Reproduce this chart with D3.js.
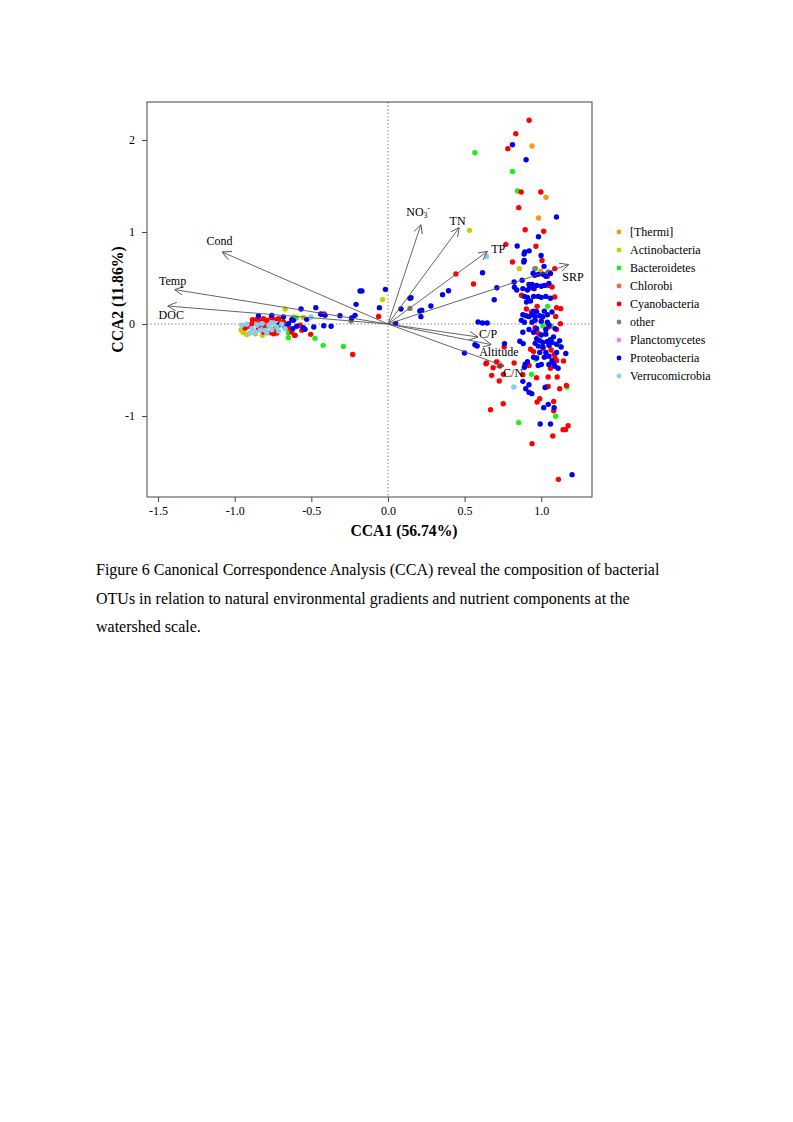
<!DOCTYPE html>
<html>
<head>
<meta charset="utf-8">
<script src="https://cdn.jsdelivr.net/npm/d3@7"></script>
<style>
  body { margin: 0; background: #fff; }
  text { font-family: "Liberation Serif", "Times New Roman", serif; }
</style>
</head>
<body>
<div id="chart"></div>
<script>
// CCA ordination: OTU scores per phylum (CCA1, CCA2)
var thermi = [[0.940,1.935],[1.031,1.377],[0.982,1.152],[0.997,0.573]];

var actinobacteria = [[0.532,1.018],[0.857,0.602],[-0.035,0.266],[-0.552,0.072],[-0.671,0.163],
    [-0.958,-0.065],[-0.932,-0.050],[-0.921,-0.114],[-0.866,-0.105],[-0.819,-0.123],[-0.780,-0.014],
    [-0.693,0.040],[-0.682,-0.014],[-0.617,0.076],[-0.697,0.058],[-0.945,-0.090]];

var bacteroidetes = [[0.567,1.862],[0.812,1.659],[0.845,1.446],[0.962,0.605],[1.042,0.192],[1.011,-0.022],
    [1.064,-0.021],[1.023,-0.105],[1.055,-0.232],[1.114,-0.232],[0.964,-0.384],[0.936,-0.547],[1.168,-0.685],
    [1.094,-1.003],[0.853,-1.072],[-0.476,-0.156],[-0.423,-0.232],[-0.291,-0.243],[-0.599,0.066],
    [-0.649,-0.094],[-0.649,-0.149],[-0.625,-0.060]];

var chlorobi = [[-0.800,0.025],[-0.735,-0.060]];

var cyanobacteria = [[0.921,2.214],[0.834,2.069],[0.782,1.906],[0.869,1.435],[0.997,1.435],[0.853,1.265],
    [0.895,1.025],[1.016,1.008],[0.769,0.866],[0.965,0.846],[0.812,0.674],[1.005,0.690],[1.088,0.602],
    [1.040,0.520],[0.443,0.543],[0.558,0.435],[0.925,0.392],[0.954,0.384],[1.045,0.420],[1.071,0.402],
    [0.871,0.312],[1.088,0.294],[0.973,0.192],[1.100,0.178],[1.127,0.167],[0.903,0.163],[0.936,0.131],
    [1.094,0.083],[1.125,0.004],[0.960,-0.040],[1.050,-0.030],[1.100,-0.060],[0.980,-0.100],[0.930,-0.275],
    [1.012,-0.264],[1.064,-0.282],[1.084,-0.330],[1.145,-0.402],[1.090,-0.370],[1.100,-0.400],[0.758,-0.249],
    [0.643,-0.424],[0.639,-0.431],[0.708,-0.413],[0.730,-0.456],[0.686,-0.475],[0.676,-0.558],[0.726,-0.620],
    [0.753,-0.547],[0.823,-0.424],[0.969,-0.583],[1.045,-0.576],[1.104,-0.576],[0.920,-0.450],[1.032,-0.685],
    [1.045,-0.678],[1.120,-0.703],[1.164,-0.667],[0.973,-0.848],[0.990,-0.812],[1.081,-0.841],[1.081,-0.942],
    [0.669,-0.931],[0.752,-0.866],[1.075,-1.217],[1.142,-1.148],[1.158,-1.148],[1.175,-1.105],[0.940,-1.300],
    [1.112,-1.688],[0.880,-0.550],[0.950,-0.300],[1.060,-0.480],
    [-0.061,0.083],[-0.417,0.109],[-0.504,-0.112],[-0.230,-0.330],[-0.610,-0.123],
    [-0.884,0.047],[-0.856,0.051],[-0.834,0.033],[-0.812,0.058],[-0.790,0.040],[-0.762,0.069],[-0.741,0.047],
    [-0.714,0.058],[-0.682,0.022],[-0.932,-0.043],[-0.910,-0.025],[-0.845,-0.050],[-0.769,-0.094],
    [-0.725,-0.097],[-0.628,-0.087],[-0.606,-0.123],[-0.573,-0.014],[-0.562,-0.069],[-0.888,0.004],
    [-0.834,-0.014],[-0.801,-0.032],[-0.736,-0.050],[-0.704,0.004],[-0.649,-0.040],[-0.812,-0.087],
    [-0.747,-0.105]];

var other = [[0.958,0.602],[1.045,0.566],[0.143,0.170],[-0.241,0.033],[-0.780,-0.020],[-0.850,0.000]];

var planctomycetes = [[-0.828,-0.062],[-0.760,0.010]];

var proteobacteria = [[0.812,1.949],[0.901,1.786],[1.099,1.163],[0.982,0.949],[0.843,0.848],[0.893,0.784],
    [0.888,0.761],[0.921,0.795],[0.999,0.746],[0.889,0.692],[0.886,0.674],[1.018,0.627],[0.947,0.551],
    [0.980,0.540],[1.011,0.540],[1.030,0.520],[1.060,0.550],[0.958,0.529],[0.617,0.558],[0.693,0.264],
    [0.710,0.395],[0.875,0.475],[0.823,0.457],
    [0.920,0.430],[0.940,0.430],[0.930,0.400],[0.950,0.390],[0.910,0.370],[0.825,0.400],[0.840,0.370],
    [0.880,0.385],[0.970,0.420],[1.000,0.410],[1.020,0.420],[1.050,0.440],[0.890,0.300],[0.910,0.290],
    [0.950,0.300],[0.980,0.300],[1.000,0.290],[1.030,0.300],[1.060,0.280],[0.904,0.240],[0.930,0.250],
    [0.880,0.100],[0.900,0.090],[0.920,0.080],[0.940,0.100],[0.960,0.080],[0.990,0.090],[1.010,0.080],
    [1.040,0.100],[0.870,0.040],[0.890,0.020],[0.940,0.020],[0.960,0.040],[1.000,0.030],[1.040,0.020],
    [1.050,-0.010],[0.950,0.140],[0.970,0.135],[1.020,0.140],[1.070,0.130],
    [0.880,-0.090],[0.950,-0.090],[1.000,-0.120],[1.030,-0.110],[0.920,-0.060],[0.970,-0.050],[1.030,-0.060],
    [1.090,-0.050],[0.970,-0.160],[0.990,-0.180],[1.010,-0.200],[1.040,-0.190],[1.060,-0.170],[1.080,-0.140],
    [1.120,-0.180],[0.960,-0.210],[0.980,-0.240],[1.010,-0.250],[1.050,-0.230],[1.070,-0.200],[1.100,-0.220],
    [1.130,-0.250],[0.990,-0.310],[1.030,-0.310],[1.100,-0.310],[1.160,-0.320],
    [0.860,-0.188],[0.882,-0.213],[0.760,-0.213],[0.950,-0.360],[0.970,-0.370],[1.020,-0.360],[1.050,-0.350],
    [1.070,-0.400],[1.080,-0.430],[1.090,-0.460],[1.110,-0.480],[0.895,-0.438],[0.910,-0.410],[0.890,-0.470],
    [0.980,-0.450],[1.000,-0.440],[1.050,-0.440],
    [0.880,-0.623],[0.899,-0.703],[0.921,-0.743],[0.938,-0.757],[0.920,-0.660],[1.025,-0.690],[1.046,-0.873],
    [1.016,-0.909],[1.084,-0.909],[0.993,-1.087],[1.060,-1.087],[1.201,-1.637],
    [0.588,0.022],[0.617,0.011],[0.647,0.011],[0.567,-0.225],[0.582,-0.239],[0.499,-0.315],[0.050,0.007],
    [0.085,0.163],[0.143,0.279],[0.150,0.285],[0.208,0.141],[0.215,0.080],[0.220,0.150],[0.280,0.196],
    [0.356,0.319],[0.395,0.362],[-0.182,0.359],[-0.170,0.360],[-0.017,0.377],[-0.208,0.214],[-0.056,0.178],
    [-0.215,0.094],[-0.237,0.065],[-0.313,0.091],[-0.410,0.094],[-0.439,0.109],[-0.471,0.178],[-0.567,0.163],
    [-0.530,0.051],[-0.484,-0.033],[-0.541,-0.058],[-0.419,-0.018],[-0.371,-0.025],
    [-0.845,0.087],[-0.758,0.094],[-0.682,0.076],[-0.628,0.047],[-0.671,-0.032],[-0.621,-0.050],
    [-0.595,-0.025],[-0.552,-0.040],[-0.436,0.105],[-0.617,0.040],[-0.714,-0.014],[-0.649,0.004]];

var verrucomicrobia = [[0.643,0.734],[0.821,-0.684],[-0.502,0.076],
    [-0.953,-0.014],[-0.921,-0.003],[-0.888,-0.050],[-0.856,-0.014],[-0.823,0.004],[-0.801,-0.069],
    [-0.775,-0.014],[-0.747,0.011],[-0.725,-0.032],[-0.693,-0.003],[-0.671,-0.050],[-0.834,-0.069],
    [-0.866,-0.087],[-0.758,-0.061],[-0.714,-0.076],[-0.790,-0.098],[-0.899,-0.098]];

var phyla = ["[Thermi]", "Actinobacteria", "Bacteroidetes", "Chlorobi", "Cyanobacteria",
             "other", "Planctomycetes", "Proteobacteria", "Verrucomicrobia"];
var phylumPoints = [thermi, actinobacteria, bacteroidetes, chlorobi, cyanobacteria,
                    other, planctomycetes, proteobacteria, verrucomicrobia];
var phylumColors = ["#F29A1E", "#CCCC00", "#1EEE1E", "#FF6347", "#FF0000",
                    "#808080", "#EE82EE", "#0000EE", "#87CEEB"];

// environmental vectors: name, tip (CCA1, CCA2), label position
var envNames = ["Cond", "Temp", "DOC", "NO3", "TN", "TP", "SRP", "C/P", "Altitude", "C/N"];
var envTips = [[-1.083,0.783],[-1.392,0.374],[-1.438,0.196],[0.215,1.080],[0.465,1.048],
               [0.649,0.790],[1.179,0.646],[0.588,-0.141],[0.675,-0.224],[0.758,-0.457]];
var envLabels = [[-1.099,0.902],[-1.405,0.475],[-1.414,0.095],[0.197,1.225],[0.454,1.127],
                 [0.719,0.820],[1.207,0.518],[0.653,-0.104],[0.723,-0.297],[0.816,-0.528]];

var xTicks = [-1.5, -1.0, -0.5, 0.0, 0.5, 1.0];
var yTicks = [-1, 0, 1, 2];

var caption = ["Figure 6 Canonical Correspondence Analysis (CCA) reveal the composition of bacterial",
               "OTUs in relation to natural environmental gradients and nutrient components at the",
               "watershed scale."];

// plot box
var box = { left: 147, right: 592, top: 102, bottom: 497 };

var svg = d3.select("#chart").append("svg")
    .attr("width", 793)
    .attr("height", 1122);

var x = d3.scaleLinear().domain([-1.572, 1.331]).range([box.left, box.right]);
var y = d3.scaleLinear().domain([-1.880, 2.413]).range([box.bottom, box.top]);

// zero lines
svg.append("line")
    .attr("x1", x(0)).attr("x2", x(0)).attr("y1", box.top).attr("y2", box.bottom)
    .attr("stroke", "#888").attr("stroke-width", 1).attr("stroke-dasharray", "1.5,2");
svg.append("line")
    .attr("x1", box.left).attr("x2", box.right).attr("y1", y(0)).attr("y2", y(0))
    .attr("stroke", "#888").attr("stroke-width", 1).attr("stroke-dasharray", "1.5,2");

// points
phylumPoints.forEach(function(pts, i) {
    svg.append("g")
        .selectAll("circle")
        .data(pts)
        .enter()
        .append("circle")
        .attr("cx", function(d) { return x(d[0]) })
        .attr("cy", function(d) { return y(d[1]) })
        .attr("r", 2.7)
        .attr("fill", phylumColors[i]);
});

// arrows
svg.append("defs").append("marker")
    .attr("id", "head")
    .attr("viewBox", "0 0 10 10")
    .attr("refX", 10).attr("refY", 5)
    .attr("markerWidth", 9).attr("markerHeight", 9)
    .attr("markerUnits", "userSpaceOnUse")
    .attr("orient", "auto")
    .append("path")
    .attr("d", "M0,0L10,5L0,10")
    .attr("fill", "none")
    .attr("stroke", "#555")
    .attr("stroke-width", 1);

svg.append("g")
    .selectAll("line")
    .data(envTips)
    .enter()
    .append("line")
    .attr("x1", x(0)).attr("y1", y(0))
    .attr("x2", function(d) { return x(d[0]) })
    .attr("y2", function(d) { return y(d[1]) })
    .attr("stroke", "#555")
    .attr("stroke-width", 0.9)
    .attr("marker-end", "url(#head)");

var labels = svg.append("g")
    .selectAll("text")
    .data(envNames)
    .enter()
    .append("text")
    .attr("x", function(d, i) { return x(envLabels[i][0]) })
    .attr("y", function(d, i) { return y(envLabels[i][1]) })
    .attr("dy", "0.35em")
    .attr("text-anchor", "middle")
    .style("font-size", "12px")
    .text(function(d) { return d === "NO3" ? "NO" : d });

labels.filter(function(d) { return d === "NO3" })
    .each(function() {
        var t = d3.select(this);
        t.append("tspan").attr("dy", "0.3em").style("font-size", "7.5px").text("3");
        t.append("tspan").attr("dy", "-0.9em").style("font-size", "7.5px").text("-");
    });

// box
svg.append("rect")
    .attr("x", box.left).attr("y", box.top)
    .attr("width", box.right - box.left).attr("height", box.bottom - box.top)
    .attr("fill", "none").attr("stroke", "#444").attr("stroke-width", 1);

// axes
var xAxis = svg.append("g")
    .attr("transform", "translate(0," + box.bottom + ")")
    .call(d3.axisBottom(x).tickValues(xTicks).tickFormat(function(d) { return d.toFixed(1) })
        .tickSize(5).tickPadding(4));
var yAxis = svg.append("g")
    .attr("transform", "translate(" + box.left + ",0)")
    .call(d3.axisLeft(y).tickValues(yTicks).tickFormat(function(d) { return String(d) })
        .tickSize(5).tickPadding(7));

[xAxis, yAxis].forEach(function(a) {
    a.select(".domain").remove();
    a.selectAll(".tick line").attr("stroke", "#444");
    a.selectAll(".tick text")
        .style("font-family", "'Liberation Serif', serif")
        .style("font-size", "12px")
        .attr("fill", "#000");
});

svg.append("text")
    .attr("x", 404)
    .attr("y", 536)
    .attr("text-anchor", "middle")
    .style("font-size", "15.7px")
    .style("font-weight", "bold")
    .text("CCA1 (56.74%)");

svg.append("text")
    .attr("transform", "translate(123," + ((box.top + box.bottom) / 2) + ") rotate(-90)")
    .attr("text-anchor", "middle")
    .style("font-size", "15.7px")
    .style("font-weight", "bold")
    .text("CCA2 (11.86%)");

// legend
var legend = svg.append("g").attr("transform", "translate(619,232)");
legend.selectAll("circle")
    .data(phyla)
    .enter()
    .append("circle")
    .attr("cx", 0)
    .attr("cy", function(d, i) { return i * 18 })
    .attr("r", 2.4)
    .attr("fill", function(d, i) { return phylumColors[i] });
legend.selectAll("text")
    .data(phyla)
    .enter()
    .append("text")
    .attr("x", 11)
    .attr("y", function(d, i) { return i * 18 })
    .attr("dy", "0.35em")
    .style("font-size", "12px")
    .text(function(d) { return d });

// caption
svg.append("g")
    .selectAll("text")
    .data(caption)
    .enter()
    .append("text")
    .attr("x", 96)
    .attr("y", function(d, i) { return 575 + i * 28.5 })
    .style("font-size", "16px")
    .text(function(d) { return d });
</script>
</body>
</html>
